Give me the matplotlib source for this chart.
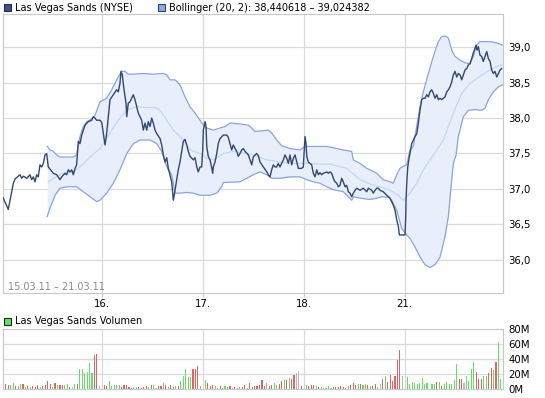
import matplotlib
matplotlib.use("Agg")
import matplotlib.pyplot as plt
from matplotlib.patches import Rectangle
import numpy as np

plt.rcParams['font.family'] = ['DejaVu Sans']

# ---------------- data ----------------
# time axis in trading-day units: 0 = 15.03., 1 = 16.03., 2 = 17.03., 3 = 18.03., 4 = 21.03.
day_ticks = [1, 2, 3, 4]
day_labels = ["16.", "17.", "18.", "21."]
price_ticks = [36.0, 36.5, 37.0, 37.5, 38.0, 38.5, 39.0]
price_labels = ["36,0", "36,5", "37,0", "37,5", "38,0", "38,5", "39,0"]
vol_ticks = [0, 20, 40, 60, 80]
vol_labels = ["0M", "20M", "40M", "60M", "80M"]

price_t = [0.028, 0.077, 0.127, 0.144, 0.193, 0.21, 0.226, 0.26, 0.292, 0.309, 0.325, 0.342, 0.358, 0.374,
           0.391, 0.408, 0.424, 0.441, 0.457, 0.473, 0.523, 0.556, 0.589, 0.606, 0.639, 0.655, 0.671, 0.688,
           0.705, 0.721, 0.738, 0.754, 0.77, 0.787, 0.804, 0.837, 0.869, 0.903, 0.919, 0.936, 0.952, 0.985,
           1.002, 1.018, 1.035, 1.051, 1.067, 1.084, 1.117, 1.15, 1.166, 1.183, 1.193, 1.206, 1.223, 1.243,
           1.25, 1.265, 1.282, 1.299, 1.315, 1.332, 1.349, 1.364, 1.381, 1.398, 1.414, 1.431, 1.448, 1.463,
           1.48, 1.497, 1.513, 1.53, 1.547, 1.58, 1.596, 1.612, 1.629, 1.646, 1.661, 1.695, 1.711, 1.728,
           1.745, 1.76, 1.777, 1.794, 1.81, 1.827, 1.844, 1.859, 1.876, 1.909, 1.926, 1.943, 1.958, 1.975,
           1.992, 2.002, 2.008, 2.025, 2.035, 2.042, 2.057, 2.074, 2.091, 2.101, 2.107, 2.124, 2.141, 2.156,
           2.173, 2.206, 2.24, 2.255, 2.272, 2.289, 2.305, 2.322, 2.339, 2.354, 2.371, 2.388, 2.404, 2.421,
           2.454, 2.47, 2.487, 2.503, 2.52, 2.537, 2.553, 2.569, 2.602, 2.636, 2.652, 2.668, 2.685, 2.701,
           2.718, 2.735, 2.75, 2.767, 2.784, 2.8, 2.817, 2.834, 2.85, 2.866, 2.883, 2.899, 2.916, 2.933,
           2.949, 2.982, 2.998, 3.008, 3.015, 3.025, 3.032, 3.047, 3.081, 3.097, 3.114, 3.131, 3.147, 3.163,
           3.18, 3.196, 3.23, 3.246, 3.262, 3.279, 3.295, 3.312, 3.329, 3.345, 3.361, 3.378, 3.394, 3.411,
           3.428, 3.444, 3.46, 3.477, 3.493, 3.51, 3.527, 3.56, 3.592, 3.626, 3.642, 3.675, 3.691, 3.708,
           3.725, 3.741, 3.757, 3.79, 3.824, 3.84, 3.856, 3.873, 3.889, 3.906, 3.923, 3.939, 3.949, 3.988,
           4.005, 4.012, 4.015, 4.022, 4.032, 4.048, 4.054, 4.071, 4.087, 4.104, 4.121, 4.137, 4.153, 4.17,
           4.186, 4.203, 4.22, 4.236, 4.252, 4.269, 4.285, 4.302, 4.319, 4.335, 4.352, 4.368, 4.385, 4.401,
           4.418, 4.434, 4.45, 4.467, 4.483, 4.5, 4.517, 4.533, 4.55, 4.566, 4.582, 4.599, 4.616, 4.632,
           4.649, 4.665, 4.681, 4.698, 4.708, 4.718, 4.731, 4.747, 4.764, 4.78, 4.797, 4.814, 4.83, 4.847,
           4.863, 4.879, 4.896, 4.913, 4.929, 4.946, 4.962]
price = [36.87, 36.71, 37.08, 37.14, 37.20, 37.15, 37.18, 37.15, 37.20, 37.13, 37.17, 37.10, 37.20, 37.17,
         37.34, 37.31, 37.36, 37.48, 37.50, 37.31, 37.22, 37.20, 37.13, 37.17, 37.22, 37.20, 37.27, 37.24,
         37.27, 37.20, 37.29, 37.34, 37.67, 37.64, 37.76, 37.90, 37.95, 37.97, 38.02, 38.00, 37.97, 37.97,
         37.94, 37.78, 37.62, 37.78, 38.02, 38.26, 38.33, 38.40, 38.37, 38.49, 38.66, 38.61, 38.40, 38.21,
         38.02, 38.21, 38.23, 38.28, 38.33, 38.26, 38.16, 38.07, 38.02, 37.97, 37.83, 37.93, 37.83, 37.95,
         37.88, 38.00, 37.93, 37.83, 37.78, 37.71, 37.62, 37.48, 37.38, 37.44, 37.29, 37.10, 36.84, 36.98,
         37.13, 37.27, 37.38, 37.53, 37.67, 37.70, 37.62, 37.53, 37.46, 37.41, 37.44, 37.31, 37.24, 37.31,
         37.31, 37.55, 37.83, 37.95, 37.88, 37.60, 37.46, 37.41, 37.30, 37.22, 37.31, 37.38, 37.50, 37.64,
         37.71, 37.76, 37.76, 37.73, 37.64, 37.55, 37.62, 37.57, 37.53, 37.46, 37.50, 37.55, 37.57, 37.53,
         37.48, 37.41, 37.34, 37.45, 37.48, 37.50, 37.47, 37.38, 37.31, 37.24, 37.20, 37.17, 37.27, 37.34,
         37.31, 37.31, 37.36, 37.31, 37.36, 37.41, 37.48, 37.43, 37.36, 37.48, 37.34, 37.43, 37.48, 37.38,
         37.29, 37.29, 37.31, 37.55, 37.74, 37.64, 37.46, 37.38, 37.34, 37.22, 37.17, 37.27, 37.20, 37.23,
         37.20, 37.22, 37.24, 37.22, 37.24, 37.22, 37.15, 37.10, 37.08, 37.03, 37.05, 37.15, 37.10, 37.03,
         37.05, 36.96, 36.94, 36.89, 36.94, 36.98, 37.01, 36.98, 37.01, 36.96, 37.01, 36.98, 36.94, 36.98,
         37.01, 37.01, 36.98, 36.96, 36.91, 36.89, 36.87, 36.82, 36.77, 36.70, 36.56, 36.47, 36.35, 36.35,
         36.35, 36.61, 36.84, 37.08, 37.31, 37.46, 37.50, 37.64, 37.69, 37.74, 37.78, 37.93, 38.11, 38.26,
         38.28, 38.28, 38.33, 38.30, 38.37, 38.40, 38.35, 38.28, 38.33, 38.26, 38.28, 38.26, 38.28, 38.30,
         38.37, 38.40, 38.44, 38.51, 38.61, 38.66, 38.58, 38.63, 38.61, 38.54, 38.61, 38.68, 38.70, 38.75,
         38.77, 38.84, 38.92, 38.99, 39.03, 38.96, 39.01, 38.89, 38.87, 38.80, 38.87, 38.94, 38.84, 38.80,
         38.68, 38.63, 38.66, 38.58, 38.63, 38.68, 38.70]

upper_t = [0.463, 0.49, 0.523, 0.556, 0.589, 0.655, 0.721, 0.754, 0.762, 0.787, 0.82, 0.853, 0.886, 0.936,
           0.985, 1.051, 1.101, 1.15, 1.2, 1.233, 1.265, 1.315, 1.414, 1.513, 1.612, 1.646, 1.678, 1.728,
           1.777, 1.827, 1.876, 1.926, 1.975, 2.008, 2.042, 2.107, 2.173, 2.223, 2.272, 2.354, 2.454, 2.487,
           2.52, 2.586, 2.652, 2.685, 2.735, 2.784, 2.866, 2.965, 3.015, 3.097, 3.23, 3.329, 3.394, 3.477,
           3.493, 3.56, 3.626, 3.658, 3.725, 3.79, 3.856, 3.889, 3.923, 3.955, 3.988, 4.022, 4.054, 4.087,
           4.153, 4.186, 4.236, 4.285, 4.335, 4.368, 4.401, 4.434, 4.467, 4.5, 4.55, 4.599, 4.649, 4.681,
           4.715, 4.747, 4.797, 4.847, 4.913, 4.972]
upper = [37.60, 37.55, 37.53, 37.48, 37.45, 37.45, 37.45, 37.48, 37.55, 37.74, 37.88, 37.95, 37.97, 38.04,
         38.23, 38.28, 38.40, 38.54, 38.66, 38.66, 38.62, 38.62, 38.63, 38.62, 38.63, 38.61, 38.54, 38.54,
         38.47, 38.30, 38.16, 38.07, 37.97, 37.90, 37.86, 37.83, 37.86, 37.88, 37.93, 37.92, 37.90, 37.86,
         37.81, 37.82, 37.83, 37.79, 37.69, 37.61, 37.57, 37.55, 37.60, 37.60, 37.60, 37.57, 37.55, 37.53,
         37.41, 37.36, 37.29, 37.27, 37.22, 37.13, 37.10, 37.08, 37.20, 37.29, 37.32, 37.34, 37.55, 37.60,
         38.16, 38.37, 38.63, 38.87, 39.08, 39.15, 39.16, 39.13, 38.96, 38.87, 38.82, 38.78, 38.77, 38.87,
         39.03, 39.08, 39.08, 39.08, 39.06, 39.03]

mid_t = [0.473, 0.523, 0.622, 0.721, 0.787, 0.886, 0.985, 1.084, 1.166, 1.25, 1.349, 1.448, 1.53, 1.58,
         1.646, 1.711, 1.81, 1.876, 1.975, 2.042, 2.107, 2.206, 2.305, 2.437, 2.537, 2.636, 2.767, 2.899,
         3.032, 3.163, 3.262, 3.428, 3.56, 3.658, 3.757, 3.856, 3.939, 3.988, 4.054, 4.121, 4.186, 4.252,
         4.319, 4.385, 4.483, 4.566, 4.649, 4.747, 4.847, 4.913, 4.972]
mid = [37.10, 37.15, 37.22, 37.24, 37.31, 37.45, 37.57, 37.79, 37.97, 38.11, 38.16, 38.15, 38.15, 38.11,
       37.97, 37.83, 37.69, 37.55, 37.50, 37.43, 37.41, 37.50, 37.53, 37.50, 37.46, 37.41, 37.38, 37.36,
       37.36, 37.35, 37.35, 37.29, 37.13, 37.07, 37.03, 36.98, 36.91, 36.84, 36.94, 37.08, 37.27, 37.41,
       37.55, 37.69, 38.07, 38.35, 38.49, 38.59, 38.68, 38.73, 38.75]

lower_t = [0.463, 0.49, 0.54, 0.589, 0.655, 0.754, 0.82, 0.886, 0.952, 0.985, 1.051, 1.117, 1.183, 1.25,
           1.315, 1.381, 1.48, 1.547, 1.596, 1.646, 1.695, 1.728, 1.777, 1.844, 1.909, 1.975, 2.074, 2.141,
           2.19, 2.206, 2.371, 2.437, 2.503, 2.569, 2.636, 2.685, 2.767, 2.866, 2.965, 3.032, 3.097, 3.163,
           3.23, 3.295, 3.394, 3.477, 3.493, 3.56, 3.658, 3.725, 3.774, 3.84, 3.873, 3.923, 3.972, 4.022,
           4.054, 4.104, 4.153, 4.203, 4.252, 4.302, 4.352, 4.401, 4.434, 4.458, 4.483, 4.51, 4.533, 4.582,
           4.632, 4.698, 4.764, 4.797, 4.83, 4.879, 4.929, 4.972]
lower = [36.61, 36.73, 36.91, 37.01, 37.03, 37.03, 36.96, 36.89, 36.82, 36.84, 36.94, 37.08, 37.27, 37.50,
         37.64, 37.69, 37.69, 37.64, 37.53, 37.31, 37.20, 36.94, 36.94, 36.95, 36.94, 36.91, 36.91, 36.94,
         37.03, 37.09, 37.10, 37.15, 37.20, 37.24, 37.20, 37.15, 37.15, 37.17, 37.17, 37.13, 37.10, 37.08,
         37.03, 36.99, 36.96, 36.84, 36.89, 36.87, 36.85, 36.87, 36.89, 36.88, 36.84, 36.70, 36.44, 36.35,
         36.30, 36.18, 36.04, 35.93, 35.89, 35.93, 36.04, 36.33, 36.61, 36.99, 37.36, 37.48, 37.74, 38.02,
         38.11, 38.12, 38.11, 38.14, 38.26, 38.37, 38.44, 38.47]

# volume (millions) per 10-minute bar, per trading day; colour code: g up, r down, n unchanged
vol_d1 = [9.8, 7, 6, 6, 8.4, 4.4, 4.4, 7, 7, 3, 4.4, 3, 4.4, 3.5, 5.7, 3, 4.4, 5.3, 11, 7,
          3.5, 8.4, 5.7, 5.7, 5.7, 5.7, 7, 3, 3, 7, 7, 27, 27, 22, 23, 35, 22, 46, 47.5, 4.4]
col_d1 = "grrggrggrgrgrrrgrrrrgrgrrggrngrggggggrrn"
vol_d2 = [6, 4.4, 11, 4.4, 6, 6, 6, 3, 6, 6, 3, 1.8, 3, 3, 3, 1.8, 3, 4.4, 3, 6,
          6, 1.8, 4.4, 4.4, 8.4, 6, 3, 6, 3, 4.4, 4.4, 11, 18, 27, 16, 17, 27, 27, 31, 4.4]
col_d2 = "rrgggggrrrrrggrrrrgrgnrrgrgrrgrgggggrrrgrr"
vol_d3 = [12, 8.4, 4.4, 6, 4.4, 1.8, 4.4, 1.8, 4.4, 3, 4.4, 1.8, 3, 1.8, 3, 3, 6, 1.8, 8.4, 3,
          4.4, 4.4, 6, 12.4, 4.4, 8.4, 4.4, 6, 8.4, 6.2, 7, 11.5, 12.4, 13, 15.5, 14, 18.6, 22, 25, 5]
col_d3 = "grrrggrgggrgrggrrgrrrrrrrgrrggrrgrgrrnnrn"
vol_d4 = [5.3, 4.4, 5.3, 5.3, 4.4, 3, 3, 1.8, 1.8, 4.4, 1.8, 3, 3, 3, 4.4, 3, 1.8, 4.4, 6.2, 8.4,
          5.8, 7, 7, 5.8, 7, 5.8, 4.4, 4.4, 7, 3, 7, 14, 17.8, 10, 19, 11, 17.8, 39, 52, 17.8]
col_d4 = "grrrgrgngggrrrrrggrrrgrggrgrrgnrgrrrrrrn"
vol_d5 = [16.4, 6.7, 9.3, 8.4, 6.7, 8.4, 15, 7.5, 8.4, 0, 6.7, 7.5, 9.8, 9.8, 4, 6.7, 9.8, 6.7, 6.7, 12,
          34, 13.3, 13.3, 8.9, 17.8, 11, 26.7, 36.4, 23, 13.3, 13.3, 17.8, 17.8, 21.8, 28.4, 25.8, 36.4, 63, 13.3]
col_d5 = "ggggggggggggrgrggggggrrnggggrrrggrrgrgg"

volumes = [vol_d1, vol_d2, vol_d3, vol_d4, vol_d5]
vol_colours = [col_d1, col_d2, col_d3, col_d4, col_d5]

# ---------------- styling ----------------
W, H = 545, 398
fig = plt.figure(figsize=(W / 100, H / 100), dpi=100)

def fx(px):
    return px / W

def fy(py):
    return 1 - py / H

grid_c = "#dadada"
spine_c = "#c8c8c8"
text_c = "#000000"
line_c = "#34466f"
band_c = "#8aa5dc"
mid_c = "#c2d6f6"
fill_c = "#e8effb"
fs = 7.0

ax = fig.add_axes([fx(3), fy(292.5), fx(503) - fx(3), fy(14) - fy(292.5)])
axv = fig.add_axes([fx(3), fy(389.3), fx(503) - fx(3), fy(329.3) - fy(389.3)])

xmin, xmax = 0.0248, 4.975
for a in (ax, axv):
    a.set_xlim(xmin, xmax)
    for s in a.spines.values():
        s.set_color(spine_c)
        s.set_linewidth(0.8)
    a.set_xticks(day_ticks)
    a.grid(True, color=grid_c, linewidth=0.9)
    a.set_axisbelow(True)
    a.yaxis.tick_right()
    a.tick_params(axis='y', length=0, pad=4, labelsize=fs + 0.3, colors=text_c)
    a.tick_params(axis='x', length=3, color=spine_c, labelsize=fs + 0.3, pad=1.5)

# main price chart
ax.set_ylim(35.537, 39.47)
ax.set_yticks(price_ticks)
ax.set_yticklabels(price_labels)
ax.set_xticklabels(day_labels)

ut = np.array(upper_t); lt = np.array(lower_t)
grid_t = np.union1d(ut, lt)
up_i = np.interp(grid_t, ut, upper)
lo_i = np.interp(grid_t, lt, lower)
ax.fill_between(grid_t, lo_i, up_i, color=fill_c, linewidth=0, zorder=1)
ax.plot(upper_t, upper, color=band_c, lw=0.9, zorder=2)
ax.plot(lower_t, lower, color=band_c, lw=0.9, zorder=2)
ax.plot(mid_t, mid, color=mid_c, lw=0.9, zorder=2)
ax.plot(price_t, price, color=line_c, lw=1.0, zorder=3)

fig.text(fx(8), fy(286.5), "15.03.11 \u2013 21.03.11", fontsize=fs, color="#8c8c8c",
         ha="left", va="center")

# volume chart
axv.set_ylim(0, 80)
axv.set_yticks(vol_ticks)
axv.set_yticklabels(vol_labels)
axv.set_xticklabels([])
axv.tick_params(axis='x', length=0)
cmap = {"g": "#66dd66", "r": "#e06666", "n": "#bbbbbb"}
for d, (vals, cols) in enumerate(zip(volumes, vol_colours)):
    ts = [d + (i + 1.14) / 41.0 for i in range(len(vals))]
    axv.bar(ts, vals, width=0.011, color=[cmap[c] for c in cols[:len(vals)]], linewidth=0, zorder=2)

# legends
def legend_box(x0, y0, size, face, edge):
    fig.patches.append(Rectangle((fx(x0), fy(y0 + size)), fx(size), fy(0) - fy(size),
                                 transform=fig.transFigure, facecolor=face, edgecolor=edge,
                                 linewidth=0.8))

legend_box(3.5, 4, 7, "#3f5282", "#1f2a44")
fig.text(fx(15), fy(8), "Las Vegas Sands (NYSE)", fontsize=fs, ha="left", va="center", color=text_c)
legend_box(157.5, 4, 7, "#8faadc", "#2f3f66")
fig.text(fx(169), fy(8), "Bollinger (20, 2): 38,440618 \u2013 39,024382", fontsize=fs,
         ha="left", va="center", color=text_c)
legend_box(3.5, 318, 7, "#66dd66", "#1f2a1f")
fig.text(fx(15), fy(321.5), "Las Vegas Sands Volumen", fontsize=fs, ha="left", va="center", color=text_c)

fig.savefig("out.png", dpi=100)
